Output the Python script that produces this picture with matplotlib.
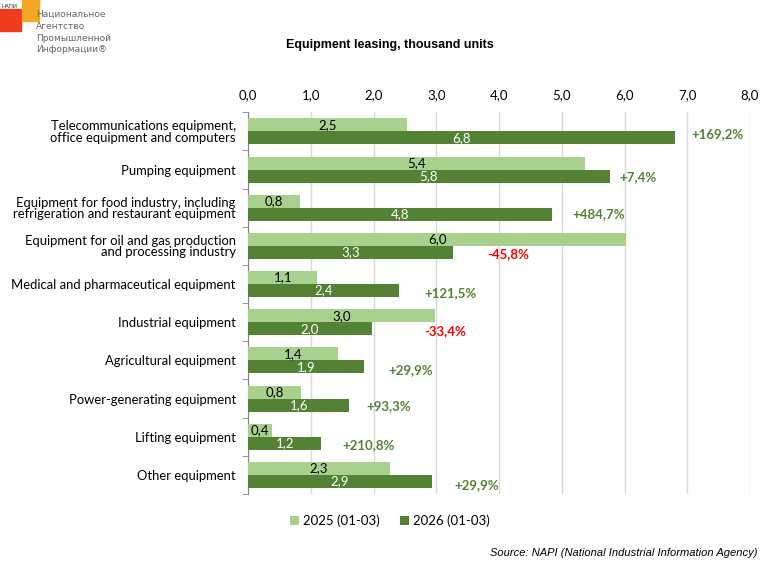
import matplotlib
matplotlib.use('Agg')
import matplotlib.pyplot as plt
from matplotlib.patches import Rectangle

# данные
categories = ['Telecommunications equipment,\noffice equipment and computers',
              'Pumping equipment',
              'Equipment for food industry, including\nrefrigeration and restaurant equipment',
              'Equipment for oil and gas production\nand processing industry',
              'Medical and pharmaceutical equipment',
              'Industrial equipment',
              'Agricultural equipment',
              'Power-generating equipment',
              'Lifting equipment',
              'Other equipment']
values_2025 = [2.53, 5.37, 0.82, 6.02, 1.10, 2.98, 1.43, 0.84, 0.37, 2.26]
values_2026 = [6.81, 5.76, 4.84, 3.26, 2.41, 1.97, 1.85, 1.61, 1.16, 2.93]
labels_2025 = ['2,5', '5,4', '0,8', '6,0', '1,1', '3,0', '1,4', '0,8', '0,4', '2,3']
labels_2026 = ['6,8', '5,8', '4,8', '3,3', '2,4', '2,0', '1,9', '1,6', '1,2', '2,9']
changes = ['+169,2%', '+7,4%', '+484,7%', '-45,8%', '+121,5%',
           '-33,4%', '+29,9%', '+93,3%', '+210,8%', '+29,9%']
x_ticks = [0, 1, 2, 3, 4, 5, 6, 7, 8]
tick_labels = ['0,0', '1,0', '2,0', '3,0', '4,0', '5,0', '6,0', '7,0', '8,0']

# где стоят подписи изменений (x в единицах оси, сдвиг по y)
change_x = [7.48, 6.22, 5.59, 4.14, 3.22, 3.14, 2.59, 2.24, 1.92, 3.64]
change_dy = [0.07, 0.21, 0.16, 0.21, 0.24, 0.23, 0.25, 0.19, 0.21, 0.26]

light = '#A9D18E'
dark = '#548235'
plt.rcParams['font.family'] = ['Lato', 'DejaVu Sans']

fig = plt.figure(figsize=(7.8, 5.67), dpi=100)
ax = fig.add_axes([248.3 / 780, 1 - 494 / 567, (750 - 248.3) / 780, (494 - 112.3) / 567])

ys = list(range(len(categories)))
h = 0.34
ax.barh([y - h / 2 for y in ys], values_2025, height=h, color=light, label='2025 (01-03)', zorder=3)
ax.barh([y + h / 2 for y in ys], values_2026, height=h, color=dark, label='2026 (01-03)', zorder=3)

for i in ys:
    ax.text(values_2025[i] / 2, i - h / 2, labels_2025[i], ha='center', va='center',
            fontsize=9.5, color='black', zorder=4)
    ax.text(values_2026[i] / 2, i + h / 2, labels_2026[i], ha='center', va='center',
            fontsize=9.5, color='white', zorder=4)
    col = '#FF0000' if changes[i].startswith('-') else dark
    ax.text(change_x[i], i + change_dy[i], changes[i], ha='center', va='center',
            fontsize=9.5, fontweight='bold', color=col, zorder=4)

ax.set_xlim(0, 8)
ax.set_ylim(len(categories) - 0.5, -0.5)
ax.set_xticks(x_ticks)
ax.set_xticklabels(tick_labels, fontsize=9.5)
ax.xaxis.tick_top()
ax.tick_params(axis='x', length=0, pad=8)
ax.grid(axis='x', color='#D9D9D9', linewidth=1, zorder=0)

ax.set_yticks(ys)
ax.set_yticklabels(categories, fontsize=9.4, linespacing=0.95)
ax.set_yticks([y - 0.5 for y in ys] + [len(ys) - 0.5], minor=True)
ax.tick_params(axis='y', which='major', length=0, pad=9)
ax.tick_params(axis='y', which='minor', length=4, color='#868686')
for s in ['top', 'right', 'bottom']:
    ax.spines[s].set_visible(False)
ax.spines['left'].set_color('#868686')

fig.text(390 / 780, 1 - 45 / 567, 'Equipment leasing, thousand units', ha='center', va='center',
         fontsize=9, fontweight='bold', family='Liberation Sans')

fig.legend(loc='center', bbox_to_anchor=(390 / 780, 1 - 521 / 567), ncol=2, frameon=False,
           fontsize=9.5, handlelength=0.7, handleheight=0.7, handletextpad=0.3, columnspacing=1.5)

fig.text(758 / 780, 1 - 553 / 567, 'Source: NAPI (National Industrial Information Agency)',
         ha='right', va='center', fontsize=8, style='italic', family='Liberation Sans')

# логотип
fig.patches.append(Rectangle((0, 1 - 31 / 567), 21 / 780, 22 / 567, transform=fig.transFigure,
                             color='#F03C1E', zorder=1))
fig.patches.append(Rectangle((22 / 780, 1 - 21 / 567), 17 / 780, 21 / 567, transform=fig.transFigure,
                             color='#F5A623', zorder=1))
fig.text(1 / 780, 1 - 6 / 567, 'НАПИ', fontsize=4, va='center', color='#333333',
         family='Liberation Sans')
fig.text(36 / 780, 1 - 10 / 567, 'Национальное\nАгентство\nПромышленной\nИнформации®',
         fontsize=6.5, va='top', color='#666666', linespacing=1.4,
         family='Liberation Sans Narrow')

fig.savefig('out.png', dpi=100)
